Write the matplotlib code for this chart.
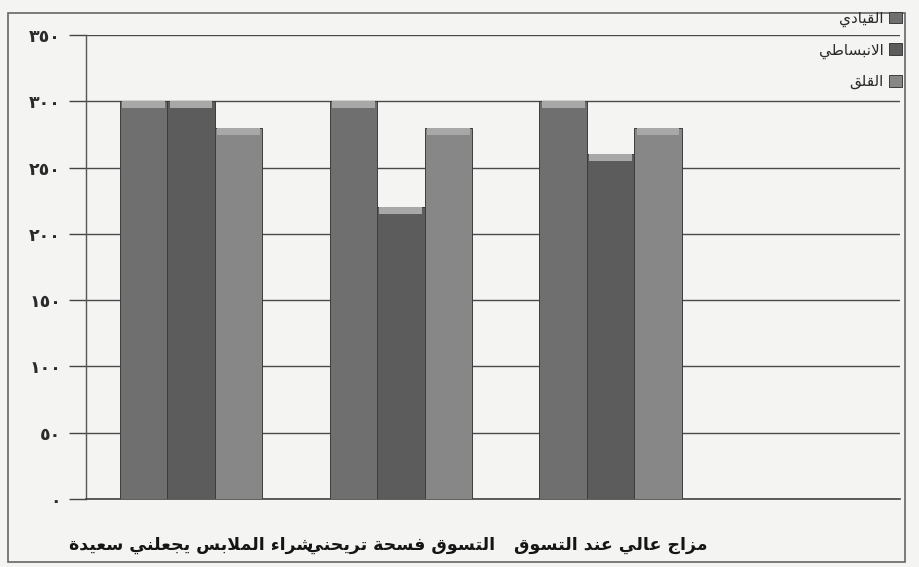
import matplotlib
matplotlib.use("Agg")
import matplotlib.pyplot as plt
import numpy as np
from matplotlib.patches import Rectangle

# data (left -> right groups)
categories = ["شراء الملابس يجعلني سعيدة", "التسوق فسحة تريحني", "مزاج عالي عند التسوق"]
series_names = ["القيادي", "الانبساطي", "القلق"]
qiyadi = [300, 300, 300]
inbisati = [300, 220, 260]
qalaq = [280, 280, 280]
y_ticks = [0, 50, 100, 150, 200, 250, 300, 350]

colors = ["#6f6f6f", "#5c5c5c", "#878787"]


"""

Arabic shaping (matplotlib has no bidi / joining support)

"""
# isolated, final, initial, medial
FORMS = {
    "ء": (0xFE80, None, None, None),
    "ا": (0xFE8D, 0xFE8E, None, None),
    "ب": (0xFE8F, 0xFE90, 0xFE91, 0xFE92),
    "ة": (0xFE93, 0xFE94, None, None),
    "ت": (0xFE95, 0xFE96, 0xFE97, 0xFE98),
    "ج": (0xFE9D, 0xFE9E, 0xFE9F, 0xFEA0),
    "ح": (0xFEA1, 0xFEA2, 0xFEA3, 0xFEA4),
    "د": (0xFEA9, 0xFEAA, None, None),
    "ر": (0xFEAD, 0xFEAE, None, None),
    "ز": (0xFEAF, 0xFEB0, None, None),
    "س": (0xFEB1, 0xFEB2, 0xFEB3, 0xFEB4),
    "ش": (0xFEB5, 0xFEB6, 0xFEB7, 0xFEB8),
    "ط": (0xFEC1, 0xFEC2, 0xFEC3, 0xFEC4),
    "ع": (0xFEC9, 0xFECA, 0xFECB, 0xFECC),
    "ف": (0xFED1, 0xFED2, 0xFED3, 0xFED4),
    "ق": (0xFED5, 0xFED6, 0xFED7, 0xFED8),
    "ل": (0xFEDD, 0xFEDE, 0xFEDF, 0xFEE0),
    "م": (0xFEE1, 0xFEE2, 0xFEE3, 0xFEE4),
    "ن": (0xFEE5, 0xFEE6, 0xFEE7, 0xFEE8),
    "و": (0xFEED, 0xFEEE, None, None),
    "ي": (0xFEF1, 0xFEF2, 0xFEF3, 0xFEF4),
}


def joins_next(c):
    return c in FORMS and FORMS[c][2] is not None


def joins_prev(c):
    return c in FORMS and FORMS[c][1] is not None


def shape(text):
    out = []
    i = 0
    n = len(text)
    while i < n:
        c = text[i]
        if c not in FORMS:
            out.append(c)
            i += 1
            continue
        prev = text[i - 1] if i > 0 else ""
        link_prev = joins_next(prev) and joins_prev(c)
        if c == "ل" and i + 1 < n and text[i + 1] == "ا":
            out.append(chr(0xFEFC if link_prev else 0xFEFB))
            i += 2
            continue
        nxt = text[i + 1] if i + 1 < n else ""
        link_next = joins_next(c) and joins_prev(nxt)
        iso, fin, ini, med = FORMS[c]
        if link_prev and link_next:
            g = med
        elif link_prev:
            g = fin
        elif link_next:
            g = ini
        else:
            g = iso
        out.append(chr(g))
        i += 1
    return "".join(reversed(out))


def arabic_digits(v):
    return str(v).translate(str.maketrans("0123456789", "٠١٢٣٤٥٦٧٨٩"))


plt.rcParams.update({
    "font.family": "DejaVu Sans",
    "font.size": 10,
})

bg = "#f4f4f3"
fig = plt.figure(figsize=(9.2, 5.67), dpi=100, facecolor=bg)
ax = fig.add_axes([0.0935, 0.12, 0.885, 0.818])
ax.set_facecolor(bg)

x = np.arange(len(categories))
w = 0.226
series = [qiyadi, inbisati, qalaq]
for k, vals in enumerate(series):
    xs = x + (k - 1) * w
    ax.bar(xs, vals, width=w, color=colors[k], edgecolor="#3c3c3c",
           linewidth=0.7, zorder=3, label=shape(series_names[k]))
    # lighter bevel at the top of each bar
    ax.bar(xs, [5] * len(vals), bottom=np.array(vals) - 5, width=w * 0.9,
           color="#a8a8a8", linewidth=0, zorder=4)

ax.set_ylim(0, 350)
ax.set_xlim(-0.5, 3.38)
ax.set_yticks(y_ticks)
ax.set_yticklabels([arabic_digits(v) for v in y_ticks], fontsize=12.5, fontweight="bold",
                   color="#2a2a2a")
ax.tick_params(axis="y", length=12, width=1, color="#444444", pad=6)
ax.set_xticks(x)
ax.set_xticklabels([shape(c) for c in categories], fontsize=12.5, fontweight="bold",
                   color="#151515")
ax.tick_params(axis="x", length=0, pad=27)

ax.grid(axis="y", color="#4a4a4a", linewidth=1.0, zorder=1)
for s in ["top", "right"]:
    ax.spines[s].set_visible(False)
ax.spines["left"].set_color("#555555")
ax.spines["bottom"].set_color("#444444")
ax.spines["left"].set_linewidth(1.0)
ax.spines["bottom"].set_linewidth(1.2)

# legend at the top right, marker on the right side (RTL)
handles, labels = ax.get_legend_handles_labels()
leg = fig.legend(handles[:3], labels[:3], loc="upper right", bbox_to_anchor=(0.995, 1.005),
                 frameon=False, markerfirst=False, fontsize=11, handlelength=0.8,
                 handleheight=0.8, handletextpad=0.4, labelspacing=1.0)
for t in leg.get_texts():
    t.set_color("#2a2a2a")

# outer frame of the scanned chart
fig.patches.append(Rectangle((8 / 920, 1 - 562 / 567), 897 / 920, 549 / 567,
                             transform=fig.transFigure, fill=False,
                             edgecolor="#666666", linewidth=1.2))

fig.savefig("out.png", dpi=100, facecolor=fig.get_facecolor())
